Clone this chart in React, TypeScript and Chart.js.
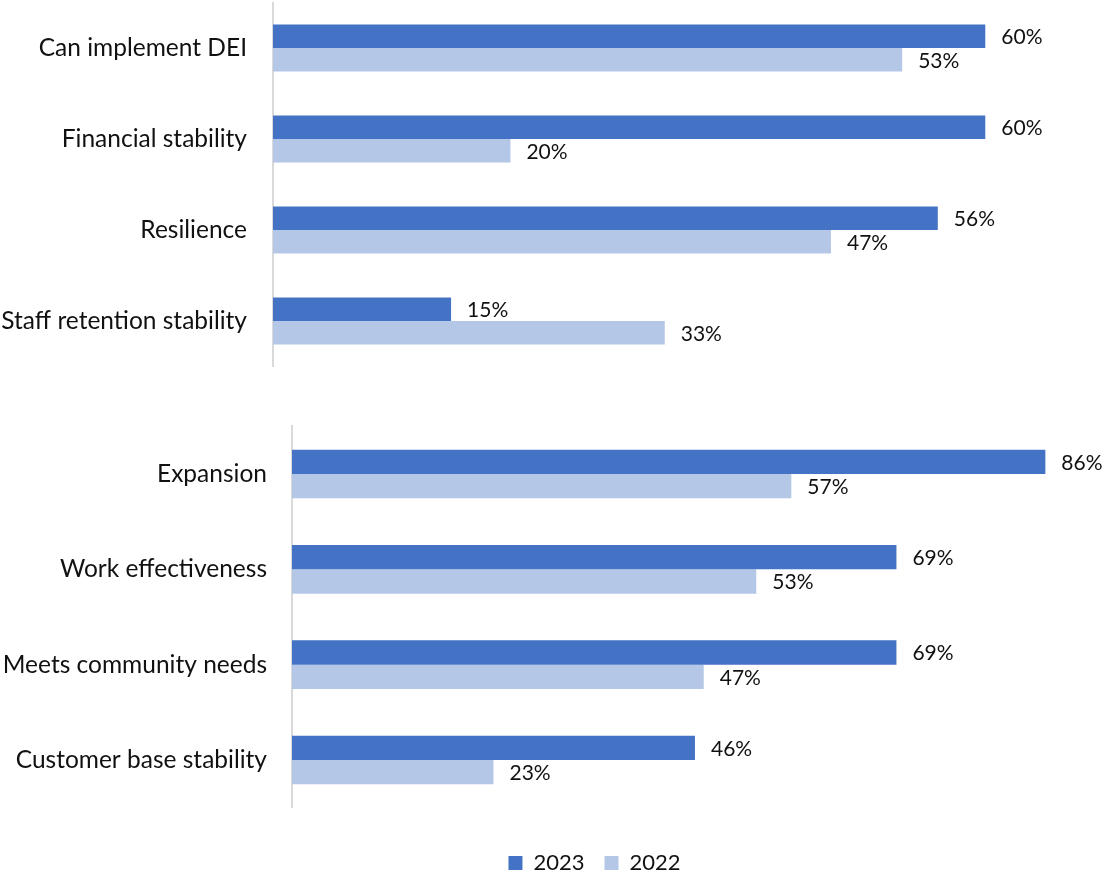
import React, { useEffect, useRef } from "react";
import { Chart, registerables } from "chart.js";

Chart.register(...registerables);

const seriesNames = ["2023", "2022"];
const topCategories = ["Can implement DEI", "Financial stability", "Resilience", "Staff retention stability"];
const top2023 = [60, 60, 56, 15];
const top2022 = [53, 20, 47, 33];
const bottomCategories = ["Expansion", "Work effectiveness", "Meets community needs", "Customer base stability"];
const bottom2023 = [86, 69, 69, 46];
const bottom2022 = [57, 53, 47, 23];

const COLOR_2023 = "#4472C4";
const COLOR_2022 = "#B4C7E7";
const AXIS_COLOR = "#D9D9D9";
const TEXT_COLOR = "#111111";
const FONT = "Lato";

const valueLabels = {
  id: "valueLabels",
  afterDatasetsDraw(chart: any) {
    const ctx = chart.ctx;
    ctx.save();
    ctx.font = `21px ${FONT}`;
    ctx.fillStyle = TEXT_COLOR;
    ctx.textAlign = "left";
    ctx.textBaseline = "middle";
    chart.data.datasets.forEach((ds: any, i: number) => {
      const meta = chart.getDatasetMeta(i);
      meta.data.forEach((bar: any, j: number) => {
        ctx.fillText(`${ds.data[j]}%`, bar.x + 16, bar.y + 1);
      });
    });
    ctx.restore();
  },
};

function makeConfig(opts: {
  labels: string[];
  a: number[];
  b: number[];
  max: number;
  axisWidth: number;
  rightSpacer: number;
  padding: any;
  tickPad: number;
  catPct: number;
  legend: boolean;
  spacer: number;
}) {
  return {
    type: "bar",
    data: {
      labels: opts.labels,
      datasets: [
        { label: seriesNames[0], data: opts.a, backgroundColor: COLOR_2023, borderWidth: 0, xAxisID: "x", yAxisID: "y" },
        { label: seriesNames[1], data: opts.b, backgroundColor: COLOR_2022, borderWidth: 0, xAxisID: "x", yAxisID: "y" },
      ],
    },
    options: {
      indexAxis: "y",
      responsive: false,
      animation: false,
      events: [],
      layout: { padding: opts.padding },
      datasets: {
        bar: { categoryPercentage: opts.catPct, barPercentage: 1 },
      },
      scales: {
        x: {
          display: opts.spacer > 0,
          min: 0,
          max: opts.max,
          grid: { display: false },
          border: { display: false },
          ticks: { display: false },
          afterFit: (s: any) => {
            if (opts.spacer > 0) s.height = opts.spacer;
            s.paddingLeft = 0;
            s.paddingRight = 0;
          },
        },
        y: {
          grid: { display: false, drawTicks: false },
          border: { display: true, color: AXIS_COLOR, width: 2 },
          ticks: {
            padding: opts.tickPad,
            color: TEXT_COLOR,
            font: { family: FONT, size: 24.5 },
          },
          afterFit: (s: any) => {
            s.width = opts.axisWidth;
            s.paddingTop = 0;
            s.paddingBottom = 0;
          },
        },
        y2: {
          type: "linear",
          axis: "y",
          position: "right",
          display: opts.rightSpacer > 0,
          grid: { display: false, drawTicks: false },
          border: { display: false },
          ticks: { display: false },
          afterFit: (s: any) => {
            s.width = opts.rightSpacer;
            s.paddingTop = 0;
            s.paddingBottom = 0;
          },
        },
      },
      plugins: {
        tooltip: { enabled: false },
        legend: opts.legend
          ? {
              display: true,
              position: "bottom",
              labels: {
                boxWidth: 14,
                boxHeight: 14,
                padding: 20,
                color: TEXT_COLOR,
                font: { family: FONT, size: 22 },
              },
            }
          : { display: false },
      },
    },
    plugins: [valueLabels],
  } as any;
}

const BOTTOM_CANVAS_W = 1191;

export default function App() {
  const topRef = useRef<HTMLCanvasElement>(null);
  const bottomRef = useRef<HTMLCanvasElement>(null);

  useEffect(() => {
    const c1 = new Chart(
      topRef.current as HTMLCanvasElement,
      makeConfig({
        labels: topCategories,
        a: top2023,
        b: top2022,
        max: 70,
        axisWidth: 273,
        rightSpacer: 0,
        padding: { top: 2.5, bottom: 13.5, right: 1, left: 0 },
        tickPad: 26,
        catPct: 0.516,
        legend: false,
        spacer: 0,
      })
    );
    const c2 = new Chart(
      bottomRef.current as HTMLCanvasElement,
      makeConfig({
        labels: bottomCategories,
        a: bottom2023,
        b: bottom2022,
        max: 90,
        axisWidth: 292,
        rightSpacer: BOTTOM_CANVAS_W - 2 - 1080.4,
        padding: { top: 11.4, bottom: 0, right: 2, left: 0 },
        tickPad: 25,
        catPct: 0.51,
        legend: true,
        spacer: 24.4,
      })
    );
    return () => {
      c1.destroy();
      c2.destroy();
    };
  }, []);

  return (
    <div
      style={{
        position: "fixed",
        left: 0,
        top: 0,
        width: 1105,
        height: 876,
        overflow: "hidden",
        background: "#fff",
      }}
    >
      <canvas
        ref={topRef}
        width={1105}
        height={380}
        style={{ position: "absolute", left: 0, top: 0, display: "block" }}
      />
      <canvas
        ref={bottomRef}
        width={BOTTOM_CANVAS_W}
        height={469}
        style={{ position: "absolute", left: 0, top: 415, display: "block" }}
      />
    </div>
  );
}
